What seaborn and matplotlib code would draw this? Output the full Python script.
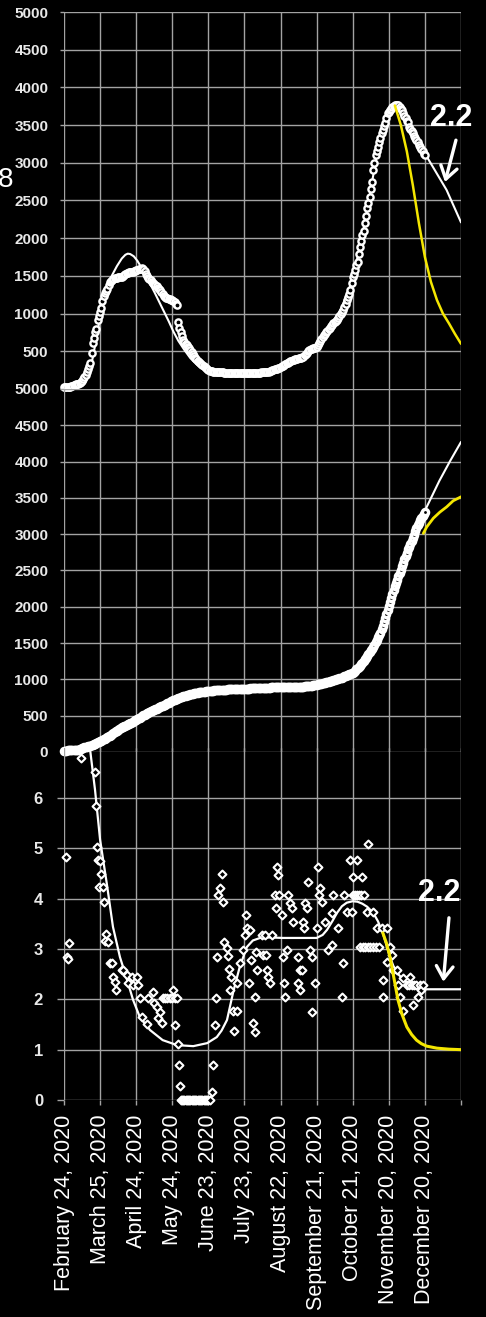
import matplotlib

matplotlib.use("Agg")
import matplotlib.pyplot as plt
import numpy as np
import seaborn as sns


TICK_DAYS = list(range(0, 331, 30))
TICK_LABELS = [
    "February 24, 2020", "March 25, 2020", "April 24, 2020", "May 24, 2020",
    "June 23, 2020", "July 23, 2020", "August 22, 2020", "September 21, 2020",
    "October 21, 2020", "November 20, 2020", "December 20, 2020", "",
]
TOP_TICKS = list(range(500, 5001, 500))
MID_TICKS = list(range(0, 5001, 500))
R_TICKS = list(range(0, 7))

# daily counts, one value per day from February 24
daily_cases = [
    20, 22, 24, 25, 27, 30, 35, 40, 48, 55,
    60, 65, 72, 80, 95, 110, 130, 160, 190, 225,
    260, 300, 345, 480, 610, 680, 750, 800, 915, 970,
    1020, 1080, 1170, 1240, 1270, 1300, 1330, 1380, 1420, 1435,
    1450, 1460, 1470, 1475, 1478, 1480, 1482, 1484, 1485, 1495,
    1510, 1525, 1540, 1545, 1548, 1550, 1553, 1556, 1560, 1565,
    1572, 1580, 1588, 1595, 1598, 1600, 1585, 1560, 1530, 1500,
    1470, 1455, 1440, 1420, 1405, 1390, 1375, 1360, 1345, 1330,
    1310, 1285, 1260, 1240, 1220, 1212, 1205, 1200, 1193, 1187,
    1180, 1165, 1150, 1130, 1115, 890, 810, 760, 700, 650,
    625, 600, 580, 560, 540, 520, 490, 460, 435, 410,
    392, 375, 360, 345, 332, 318, 305, 292, 280, 265,
    252, 240, 236, 233, 230, 228, 226, 225, 225, 224,
    225, 222, 220, 218, 216, 215, 214, 213, 212, 212,
    212, 211, 210, 210, 210, 209, 210, 210, 211, 211,
    210, 211, 212, 212, 212, 212, 213, 213, 214, 215,
    215, 216, 217, 218, 219, 220, 221, 222, 224, 225,
    230, 235, 240, 246, 252, 260, 265, 270, 275, 283,
    290, 300, 310, 320, 330, 340, 350, 360, 368, 376,
    385, 389, 393, 397, 401, 405, 410, 414, 419, 425,
    445, 465, 480, 500, 520, 527, 533, 540, 545, 550,
    555, 580, 605, 630, 660, 690, 710, 730, 750, 770,
    790, 810, 830, 850, 870, 885, 900, 915, 940, 965,
    990, 1020, 1050, 1090, 1130, 1180, 1220, 1260, 1310, 1400,
    1485, 1530, 1580, 1640, 1690, 1790, 1885, 1960, 2040, 2100,
    2200, 2300, 2400, 2470, 2545, 2650, 2745, 2905, 3000, 3100,
    3160, 3210, 3270, 3330, 3395, 3440, 3490, 3530, 3600, 3660,
    3680, 3700, 3720, 3735, 3750, 3765, 3770, 3765, 3760, 3740,
    3715, 3700, 3660, 3620, 3590, 3560, 3540, 3480, 3450, 3420,
    3395, 3360, 3330, 3300, 3270, 3240, 3210, 3180, 3150, 3120, 3100,
]

# fitted daily curve and its two projections
daily_fit_days = [0, 10, 15, 18, 21, 24, 27, 30, 33, 36, 40, 44, 48, 51, 53, 55, 58, 61, 64,
                  67, 71, 75, 79, 83, 87, 91, 95, 100, 105, 110, 115, 121, 130, 170, 180,
                  190, 200, 210, 220, 230, 240, 250, 260, 266, 270, 274, 276]
daily_fit = [10, 15, 40, 100, 220, 420, 680, 950, 1200, 1380, 1510, 1630, 1730, 1780, 1795,
             1790, 1760, 1700, 1620, 1530, 1410, 1290, 1160, 1030, 900, 760, 640, 520, 410,
             330, 270, 220, 200, 205, 260, 360, 470, 600, 800, 1050, 1450, 2200, 3100, 3500,
             3700, 3780, 3790]
daily_high_days = [276, 290, 302, 318, 330]
daily_high = [3790, 3410, 3070, 2640, 2210]
daily_low_days = [275, 280, 285, 290, 295, 300, 305, 310, 315, 320, 325, 330]
daily_low = [3760, 3500, 3150, 2700, 2200, 1750, 1420, 1180, 1000, 870, 730, 600]

# running total, one value per day
total_cases = [
    20, 20, 20, 21, 21, 22, 22, 23, 24, 25,
    27, 30, 34, 40, 45, 50, 56, 62, 68, 74,
    78, 82, 86, 90, 95, 104, 113, 122, 131, 140,
    149, 158, 167, 176, 185, 195, 205, 216, 227, 238,
    250, 261, 272, 284, 295, 306, 318, 330, 338, 347,
    355, 364, 372, 381, 389, 398, 406, 415, 425, 435,
    445, 455, 465, 475, 485, 495, 505, 515, 525, 535,
    543, 551, 559, 567, 575, 582, 590, 598, 606, 613,
    620, 629, 637, 646, 654, 663, 672, 680, 689, 698,
    706, 715, 722, 728, 735, 741, 747, 753, 760, 766,
    772, 778, 785, 789, 792, 796, 800, 803, 807, 811,
    814, 818, 821, 825, 827, 829, 831, 833, 835, 837,
    839, 841, 843, 844, 846, 848, 850, 851, 852, 853,
    855, 856, 857, 858, 859, 860, 861, 862, 863, 864,
    865, 866, 867, 867, 868, 869, 870, 870, 871, 871,
    872, 872, 873, 874, 874, 875, 875, 876, 877, 878,
    878, 879, 879, 880, 881, 882, 883, 884, 885, 886,
    887, 888, 889, 889, 890, 891, 892, 893, 894, 894,
    895, 895, 895, 895, 895, 895, 895, 895, 896, 896,
    896, 896, 896, 896, 896, 896, 897, 898, 900, 902,
    903, 904, 905, 906, 908, 910, 913, 916, 919, 922,
    926, 930, 933, 935, 940, 945, 950, 955, 960, 964,
    968, 972, 978, 984, 990, 995, 1000, 1005, 1010, 1015,
    1020, 1026, 1032, 1040, 1047, 1054, 1061, 1068, 1075, 1082,
    1090, 1105, 1120, 1137, 1155, 1172, 1190, 1207, 1225, 1250,
    1275, 1300, 1325, 1350, 1375, 1400, 1425, 1450, 1480, 1510,
    1545, 1580, 1610, 1640, 1690, 1740, 1790, 1845, 1900, 1950,
    2005, 2065, 2120, 2175, 2230, 2280, 2330, 2375, 2420, 2465,
    2510, 2560, 2605, 2655, 2700, 2745, 2790, 2830, 2870, 2910,
    2950, 2995, 3040, 3080, 3120, 3155, 3190, 3220, 3250, 3280, 3300,
]
total_high_days = [299, 312, 321, 330]
total_high = [3290, 3735, 4010, 4270]
total_low_days = [298.7, 301.5, 307, 312.5, 318, 323.5, 330]
total_low = [3012, 3100, 3220, 3305, 3375, 3460, 3515]

# reproduction number estimates
r_days = [
    1.7, 2.5, 3.3, 4.2, 14, 25.8, 26.6, 27.4, 28.3, 30.0, 30.8, 29.0, 32.4, 33.3, 35.0,
    34.0, 36.6, 38.2, 40.0, 40.7, 42.4, 43.0, 48.2, 49.0, 52.4, 53.0, 56.5, 60.7, 57.4,
    61.5, 63.2, 64.8, 69.0, 69.8, 74.0, 75.0, 77.0, 78.0, 80.0, 81.5, 82, 84, 86, 88, 90,
    92, 94, 90.5, 92.3, 94.5, 95.3, 96.2,
    97, 98, 99, 100, 101, 102, 103, 104, 105, 106, 107, 108, 109, 110, 111, 112, 113,
    114, 115, 116, 117, 118, 119, 120, 121,
    123, 124, 125.5, 126.4, 127.2, 128.1, 129.7, 131.2, 132, 133, 135.5, 136.2, 136.8,
    139, 138, 140.5, 143.8, 141.3, 144.2, 146, 149, 150.5, 151.3, 152.1, 154, 154.6,
    155.3, 157, 158.5, 158.8, 159.3, 160.2, 164.6, 167, 173, 165.4, 167.5, 168.7, 169.6,
    171, 175.4, 176.2, 177, 178, 178.6, 181, 182, 182.6, 183.7, 185, 186, 188, 189.5,
    190.3, 194.5, 194.8, 196, 196.5, 198, 198.7, 199.4, 200, 202, 203, 204.5, 206, 206.5,
    208.6, 210, 211, 211.7, 212.8, 214.5, 217, 219.5, 222.5, 222.8, 223.2, 227.8, 231,
    232, 232.5, 235, 237.7, 239.4, 239.9, 240.5, 241.6, 243.3, 243.6, 245, 246.2, 247.7,
    247, 248.3, 249.2, 250.3, 252, 252.7, 252.4, 254.5, 256.6, 257, 259, 260, 262, 264,
    265, 265.3, 268.5, 268.7, 271, 272.6, 273.5, 276.8, 277.6, 279, 281.8, 282, 285, 287,
    287.6, 289, 290, 291, 293, 294, 296, 296.5, 298,
]
r_values = [
    4.83, 2.85, 2.80, 3.12, 6.80, 6.52, 5.84, 5.03, 4.77, 4.75, 4.50, 4.23, 4.23, 3.93, 3.30,
    3.15, 3.13, 2.73, 2.73, 2.45, 2.34, 2.19, 2.58, 2.58, 2.48, 2.33, 2.45, 2.45, 2.28,
    2.28, 2.03, 1.65, 1.51, 2.03, 2.15, 1.93, 1.85, 1.63, 1.75, 1.53, 2.03, 2.03, 2.03, 2.03, 2.03,
    2.03, 2.03, 2.19, 1.49, 1.11, 0.70, 0.28,
    0, 0, 0, 0, 0, 0, 0, 0, 0, 0, 0, 0, 0, 0, 0, 0, 0,
    0, 0, 0, 0, 0, 0, 0, 0,
    0.15, 0.70, 1.49, 2.03, 2.84, 4.08, 4.22, 4.49, 3.94, 3.14, 3.02, 2.87, 2.60,
    2.45, 2.19, 1.77, 1.77, 1.37, 2.33, 2.72, 2.98, 3.28, 3.68, 3.42, 2.33, 3.38,
    2.78, 1.53, 1.36, 2.05, 2.94, 2.58, 3.28, 3.28, 3.28, 2.88, 2.88, 2.58, 2.45,
    2.33, 4.08, 3.82, 4.63, 4.47, 4.08, 3.68, 2.84, 2.33, 2.05, 2.98, 4.08, 3.92, 3.82,
    3.54, 2.84, 2.33, 2.58, 2.19, 2.58, 3.54, 3.42, 3.92, 3.82, 4.33, 2.98, 2.84, 1.75,
    2.33, 3.42, 4.63, 4.08, 4.22, 3.94, 3.54, 2.98, 3.08, 3.72, 4.08, 3.42, 2.05,
    2.73, 4.08, 3.74, 4.77, 3.74, 4.08, 4.43, 4.08, 4.08, 4.77, 4.08, 3.04, 4.43,
    4.08, 3.04, 4.08, 3.04, 3.74, 5.09, 3.04, 3.04, 3.04, 3.74, 3.04, 3.42, 3.04, 3.42,
    2.39, 2.05, 3.42, 2.74, 3.04, 2.88, 2.58, 2.58, 2.28, 2.05, 1.77, 2.42, 2.28, 2.28,
    2.45, 2.28, 1.89, 2.28, 2.28, 2.05, 2.28, 2.19, 2.28,
]
r_fit_days = [19, 22, 25.8, 30, 35.5, 40.7, 46.5, 52.4, 57.4, 63, 71.5, 82, 94, 107.5, 119,
              127, 131, 135.5, 140.5, 146, 152, 157, 163, 171, 182, 210, 215, 218.6, 223,
              227, 231, 235, 240, 244, 248, 252, 257, 261, 265, 268, 271, 274, 277, 281,
              285, 290, 295, 298.4, 330]
r_fit = [7.4, 6.9, 6.16, 5.17, 4.31, 3.44, 2.84, 2.39, 1.99, 1.65, 1.39, 1.19, 1.09, 1.07,
         1.13, 1.25, 1.38, 1.59, 2.13, 2.64, 3.04, 3.17, 3.22, 3.23, 3.22, 3.22, 3.28, 3.38,
         3.55, 3.72, 3.85, 3.92, 3.95, 3.94, 3.90, 3.84, 3.72, 3.55, 3.32, 3.08, 2.84, 2.65,
         2.52, 2.42, 2.33, 2.26, 2.22, 2.20, 2.20]
r_low_days = [265, 268, 271, 273.5, 277.6, 281, 285, 289, 293, 297, 301.5, 310, 320, 330]
r_low = [3.32, 3.12, 2.84, 2.52, 1.99, 1.70, 1.45, 1.30, 1.19, 1.12, 1.07, 1.03, 1.01, 1.00]

W, H = 486, 1317
LEFT, RIGHT = 64, 461
GRID = "#a3a3a3"
YELLOW = "#f4e600"

sns.set_theme(style="dark", rc={
    "figure.facecolor": "black",
    "axes.facecolor": "black",
    "text.color": "white",
})
plt.rcParams["font.family"] = ["Liberation Sans", "DejaVu Sans"]

fig = plt.figure(figsize=(W / 100, H / 100), dpi=100)
panels = [(12, 389, TOP_TICKS, (0, 5000), 4), (389, 752, MID_TICKS, (0, 5000), 4),
          (747.7, 1100, R_TICKS, (0, 7), 7)]
axes = []
for top, bottom, yticks, ylim, tick_px in panels:
    ax = fig.add_axes([LEFT / W, 1 - bottom / H, (RIGHT - LEFT) / W, (bottom - top) / H])
    ax.set_facecolor("none")
    ax.set_xlim(0, 330)
    ax.set_ylim(*ylim)
    ax.set_xticks(TICK_DAYS)
    ax.set_yticks(yticks)
    ax.grid(True, color=GRID, linewidth=1.0)
    for spine in ax.spines.values():
        spine.set_visible(False)
    # short gray marks left of the axis, like the original tick marks
    ax.tick_params(axis="y", left=True, length=tick_px * 0.72, width=1.0, color=GRID)
    axes.append(ax)
ax_top, ax_mid, ax_r = axes

# daily counts
days = np.arange(len(daily_cases))
sns.lineplot(x=daily_fit_days, y=daily_fit, ax=ax_top, color="white", linewidth=1.5, zorder=2)
sns.lineplot(x=daily_high_days, y=daily_high, ax=ax_top, color="white", linewidth=1.5, zorder=2)
sns.scatterplot(x=days, y=daily_cases, ax=ax_top, marker="o", s=20, color="black",
                edgecolor="white", linewidth=1.7, zorder=3, clip_on=False)
sns.lineplot(x=daily_low_days, y=daily_low, ax=ax_top, color=YELLOW, linewidth=1.8, zorder=4)

# running total
total_days = np.arange(len(total_cases))
sns.lineplot(x=total_high_days, y=total_high, ax=ax_mid, color="white", linewidth=1.5, zorder=2)
sns.scatterplot(x=total_days, y=total_cases, ax=ax_mid, marker="o", s=20, color="black",
                edgecolor="white", linewidth=2.4, zorder=3, clip_on=False)
sns.lineplot(x=total_low_days, y=total_low, ax=ax_mid, color=YELLOW, linewidth=2.0, zorder=4)

# reproduction number
sns.lineplot(x=r_fit_days, y=r_fit, ax=ax_r, color="white", linewidth=1.6, zorder=2)
sns.scatterplot(x=r_days, y=r_values, ax=ax_r, marker="D", s=16, color="black",
                edgecolor="white", linewidth=1.5, zorder=3, clip_on=False)
sns.lineplot(x=r_low_days, y=r_low, ax=ax_r, color=YELLOW, linewidth=2.2, zorder=4)

for ax, (top, bottom, yticks, ylim, tick_px) in zip(axes, panels):
    ax.set_xlim(0, 330)
    ax.set_ylim(*ylim)
    ax.set_xlabel("")
    ax.set_ylabel("")
    ax.set_yticks(yticks)
    ax.set_yticklabels([str(t) for t in yticks], fontweight="bold")

ax_top.tick_params(axis="y", pad=8.4, labelsize=11, labelcolor="#e8e8e8")
ax_mid.tick_params(axis="y", pad=8.4, labelsize=11, labelcolor="#e8e8e8")
ax_r.tick_params(axis="y", pad=10, labelsize=12, labelcolor="#e8e8e8")
ax_top.tick_params(axis="x", bottom=False, labelbottom=False)
ax_mid.tick_params(axis="x", bottom=False, labelbottom=False)
ax_r.set_xticks(TICK_DAYS)
ax_r.set_xticklabels(TICK_LABELS, rotation=90)
ax_r.tick_params(axis="x", bottom=True, length=3.6, width=1.0, color=GRID, pad=7,
                 labelsize=15.5, labelcolor="white")

arrow = dict(arrowstyle="->,head_length=0.6,head_width=0.4", color="white", lw=2.4,
             mutation_scale=15, shrinkA=0, shrinkB=0)
ax_top.text(321.7, 3595, "2.2", ha="center", va="center", fontsize=22,
            fontweight="bold", color="white")
ax_top.annotate("", xy=(316.7, 2745), xytext=(325.8, 3300), arrowprops=arrow)
ax_r.text(311.7, 4.12, "2.2", ha="center", va="center", fontsize=22,
          fontweight="bold", color="white")
ax_r.annotate("", xy=(315.3, 2.35), xytext=(320.0, 3.62), arrowprops=arrow)

fig.text(13.5 / W, 1 - 180 / H, "8", ha="right", va="center", fontsize=20, color="white")

fig.savefig("out.png", dpi=100, facecolor="black")
